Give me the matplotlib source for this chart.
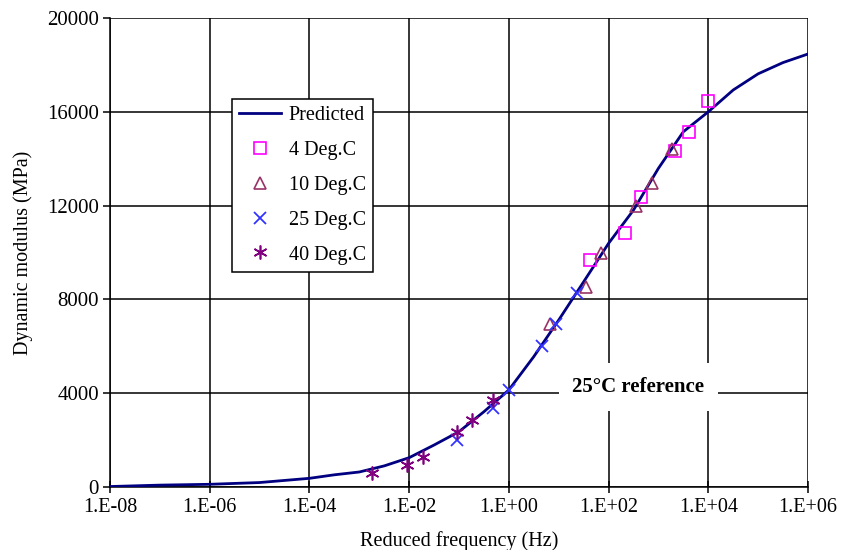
import matplotlib
matplotlib.use("Agg")
import matplotlib.pyplot as plt
import numpy as np

plt.rcParams['font.family'] = ['Liberation Serif', 'DejaVu Serif']

# Predicted master curve (log10 reduced frequency, modulus MPa)
pred_logf = [-8, -7, -6, -5, -4, -3.5, -3, -2.5, -2, -1.5, -1, -0.5, 0, 0.5, 1, 1.5, 2, 2.5, 3, 3.5, 4, 4.5, 5, 5.5, 6]
pred_E = [20, 80, 115, 190, 370, 520, 640, 900, 1250, 1790, 2360, 3210, 4140, 5560, 7120, 8750, 10390, 11810, 13590, 15150, 16000, 16930, 17620, 18100, 18465]

f_4 = [42, 212, 445, 2140, 4070, 9800]
E_4 = [9680, 10830, 12370, 14330, 15140, 16460]

f_10 = [6.6, 35, 70, 354, 740, 1860]
E_10 = [6950, 8530, 9980, 11980, 12960, 14410]

f_25 = [0.091, 0.48, 1.0, 4.6, 8.8, 23]
E_25 = [2000, 3370, 4140, 6010, 6950, 8270]

f_40 = [0.0018, 0.0089, 0.019, 0.091, 0.18, 0.48]
E_40 = [600, 940, 1280, 2345, 2860, 3710]

xticks = [1e-8, 1e-6, 1e-4, 1e-2, 1e0, 1e2, 1e4, 1e6]
xticklabels = ['1.E-08', '1.E-06', '1.E-04', '1.E-02', '1.E+00', '1.E+02', '1.E+04', '1.E+06']
yticks = [0, 4000, 8000, 12000, 16000, 20000]

fig = plt.figure(figsize=(8.41, 5.5), dpi=100)
ax = fig.add_axes([110/841, 63/550, 698/841, 469/550])

pf = 10 ** np.array(pred_logf)
ax.plot(pf, pred_E, color='#000080', lw=2.0, label='Predicted', zorder=3)
ax.plot(f_4, E_4, ls='none', marker='s', ms=8, mfc='none', mec='#FF00FF', mew=1.2, label='4 Deg.C', zorder=4)
ax.plot(f_10, E_10, ls='none', marker='^', ms=8, mfc='none', mec='#993366', mew=1.2, label='10 Deg.C', zorder=4)
ax.plot(f_25, E_25, ls='none', marker='x', ms=9, mec='#3333FF', mew=1.3, label='25 Deg.C', zorder=4)
ax.plot(f_40, E_40, ls='none', marker=(6, 2, 0), ms=10, mec='#800080', mew=1.2, label='40 Deg.C', zorder=4)

ax.set_xscale('log')
ax.set_xlim(1e-8, 1e6)
ax.set_ylim(0, 20000)
ax.set_xticks(xticks)
ax.set_xticklabels(xticklabels)
ax.minorticks_off()
ax.set_yticks(yticks)
ax.set_yticklabels([str(v) for v in yticks])
ax.grid(True, color='black', lw=1.1)
for s in ['top', 'right']:
    ax.spines[s].set_visible(False)
for s in ['left', 'bottom']:
    ax.spines[s].set_linewidth(1.1)
ax.tick_params(axis='y', direction='out', length=5, width=1.1, labelsize=15, pad=3)
ax.tick_params(axis='x', direction='inout', length=8, width=1.1, labelsize=14.5, pad=4)

ax.set_xlabel('Reduced frequency (Hz)', fontsize=14.5, labelpad=10)
ax.set_ylabel('Dynamic modulus (MPa)', fontsize=14.5, labelpad=10)

ax.text(10 ** 2.6, 4250, '25°C reference', fontsize=15, fontweight='bold', ha='center', va='center',
        bbox=dict(facecolor='white', edgecolor='none', pad=10), zorder=5)

leg = ax.legend(loc='upper left', bbox_to_anchor=(0.175, 0.827), fontsize=14.5, frameon=True,
                fancybox=False, edgecolor='black', framealpha=1, borderpad=0.35,
                handlelength=2.1, labelspacing=0.78, handletextpad=0.35, borderaxespad=0)
leg.get_frame().set_linewidth(1.1)

fig.savefig('out.png', dpi=100)
